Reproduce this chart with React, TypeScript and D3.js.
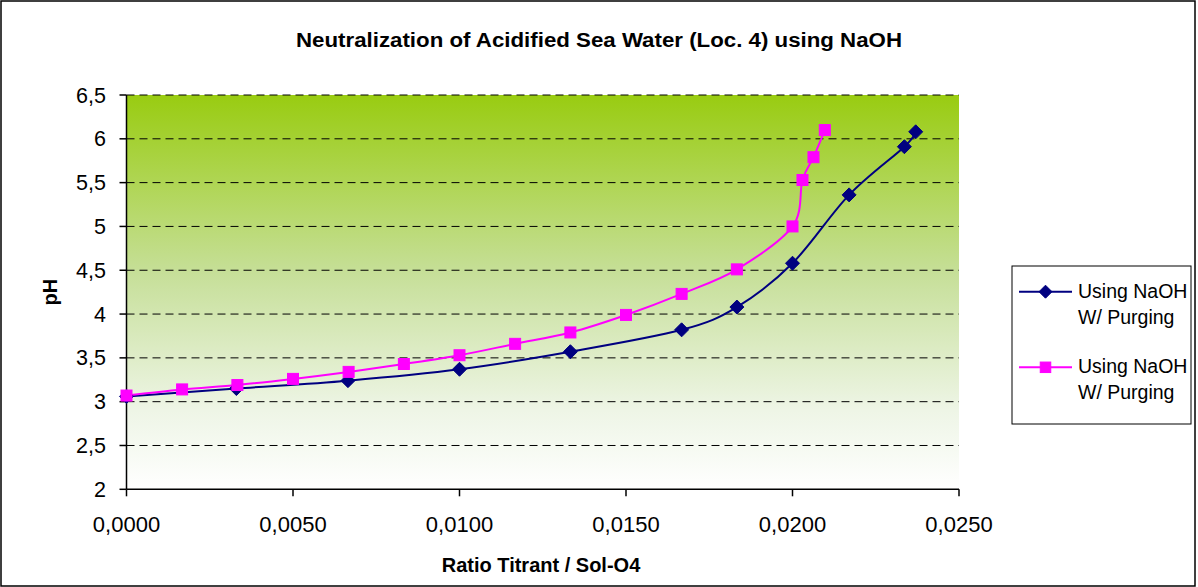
import React from "react";
import * as d3 from "d3";

const xTicks = [0, 0.005, 0.01, 0.015, 0.02, 0.025];
const yTicks = [2, 2.5, 3, 3.5, 4, 4.5, 5, 5.5, 6, 6.5];

const seriesNames = ["Using NaOH|W/ Purging", "Using NaOH|W/ Purging"];

const blueX = [0, 0.0033, 0.00665, 0.01, 0.01333, 0.01667, 0.01833, 0.02, 0.0217, 0.02336, 0.0237];
const blueY = [3.06, 3.15, 3.24, 3.37, 3.57, 3.82, 4.08, 4.58, 5.36, 5.91, 6.08];

const pinkX = [0, 0.00167, 0.00333, 0.005, 0.00667, 0.00833, 0.01, 0.01167, 0.01333, 0.015, 0.01667, 0.01833, 0.02, 0.0203, 0.02063, 0.02097];
const pinkY = [3.07, 3.14, 3.19, 3.26, 3.34, 3.43, 3.53, 3.66, 3.79, 3.99, 4.23, 4.51, 5.0, 5.53, 5.79, 6.1];

const W = 1198;
const H = 587;
const left = 126.5;
const right = 959;
const top = 95;
const bottom = 489.3;

const fmtComma = (v: number, d: number) => v.toFixed(d).replace(".", ",");

export default function App() {
  const x = d3.scaleLinear().domain([0, 0.025]).range([left, right]);
  const y = d3.scaleLinear().domain([2, 6.5]).range([bottom, top]);

  const line = d3
    .line<[number, number]>()
    .x((d) => x(d[0]))
    .y((d) => y(d[1]))
    .curve(d3.curveCardinal.tension(0));

  const blue: [number, number][] = blueX.map((v, i) => [v, blueY[i]]);
  const pink: [number, number][] = pinkX.map((v, i) => [v, pinkY[i]]);

  const diamond = (cx: number, cy: number, r: number, key?: any) => (
    <path key={key} d={`M${cx},${cy - r}L${cx + r},${cy}L${cx},${cy + r}L${cx - r},${cy}Z`} fill="#000080" stroke="#000080" strokeWidth={1} />
  );
  const square = (cx: number, cy: number, s: number, key?: any) => (
    <rect key={key} x={cx - s / 2} y={cy - s / 2} width={s} height={s} fill="#FF00FF" stroke="#FF00FF" strokeWidth={1} />
  );

  const font = "'Liberation Sans', Arial, sans-serif";

  return (
    <svg width={W} height={H} style={{ position: "absolute", left: 0, top: 0 }} fontFamily={font}>
      <defs>
        <linearGradient id="bg" x1="0" y1="0" x2="0" y2="1">
          <stop offset="0" stopColor="#99CC11" />
          <stop offset="0.45" stopColor="#C6DF98" />
          <stop offset="0.8" stopColor="#EEF5E6" />
          <stop offset="1" stopColor="#FFFFFF" />
        </linearGradient>
      </defs>
      <rect x={0} y={0} width={W} height={H} fill="#fff" />
      <rect x={1} y={1} width={W - 4} height={H - 2} fill="none" stroke="#000" strokeWidth={1.5} />

      <text x={599} y={47} textAnchor="middle" fontWeight="bold" fontSize={20} textLength={606} lengthAdjust="spacingAndGlyphs">
        Neutralization of Acidified Sea Water (Loc. 4) using NaOH
      </text>

      <rect x={left} y={top} width={right - left} height={bottom - top} fill="url(#bg)" />

      {yTicks.filter((t) => t > 2).map((t) => (
        <line key={"g" + t} x1={left} x2={right} y1={y(t)} y2={y(t)} stroke="#000" strokeWidth={1} strokeDasharray="8,5" />
      ))}

      <line x1={left} x2={left} y1={top} y2={bottom} stroke="#000" strokeWidth={1.5} />
      <line x1={left} x2={right} y1={bottom} y2={bottom} stroke="#000" strokeWidth={1.5} />

      {yTicks.map((t) => (
        <g key={"y" + t}>
          <line x1={left - 7} x2={left} y1={y(t)} y2={y(t)} stroke="#000" strokeWidth={1.5} />
          <text x={106} y={y(t) + 7.5} textAnchor="end" fontSize={21.5}>
            {Number.isInteger(t) ? String(t) : fmtComma(t, 1)}
          </text>
        </g>
      ))}

      {xTicks.map((t) => (
        <g key={"x" + t}>
          <line x1={x(t)} x2={x(t)} y1={bottom} y2={bottom + 7} stroke="#000" strokeWidth={1.5} />
          <text x={x(t)} y={532} textAnchor="middle" fontSize={22}>
            {fmtComma(t, 4)}
          </text>
        </g>
      ))}

      <text x={541} y={572} textAnchor="middle" fontWeight="bold" fontSize={20}>
        Ratio Titrant / Sol-O4
      </text>
      <text transform={`translate(57,${(top + bottom) / 2}) rotate(-90)`} textAnchor="middle" fontWeight="bold" fontSize={20}>
        pH
      </text>

      <path d={line(blue) || ""} fill="none" stroke="#000080" strokeWidth={2} />
      <path d={line(pink) || ""} fill="none" stroke="#FF00FF" strokeWidth={2} />
      {blue.map((d, i) => diamond(x(d[0]), y(d[1]), 7, "b" + i))}
      {pink.map((d, i) => square(x(d[0]), y(d[1]), 11, "p" + i))}

      <rect x={1012} y={266} width={179} height={158} fill="#fff" stroke="#000" strokeWidth={1} />
      <line x1={1019} x2={1072} y1={291.7} y2={291.7} stroke="#000080" strokeWidth={2} />
      {diamond(1045.5, 291.7, 6.5)}
      <line x1={1019} x2={1072} y1={367.3} y2={367.3} stroke="#FF00FF" strokeWidth={2} />
      {square(1045.5, 367.3, 10.5)}
      {seriesNames.map((n, i) => {
        const parts = n.split("|");
        const by = i === 0 ? 297.7 : 372.7;
        return (
          <g key={"l" + i}>
            <text x={1078} y={by} fontSize={19.5}>{parts[0]}</text>
            <text x={1078} y={by + 26.5} fontSize={19.5}>{parts[1]}</text>
          </g>
        );
      })}
    </svg>
  );
}
